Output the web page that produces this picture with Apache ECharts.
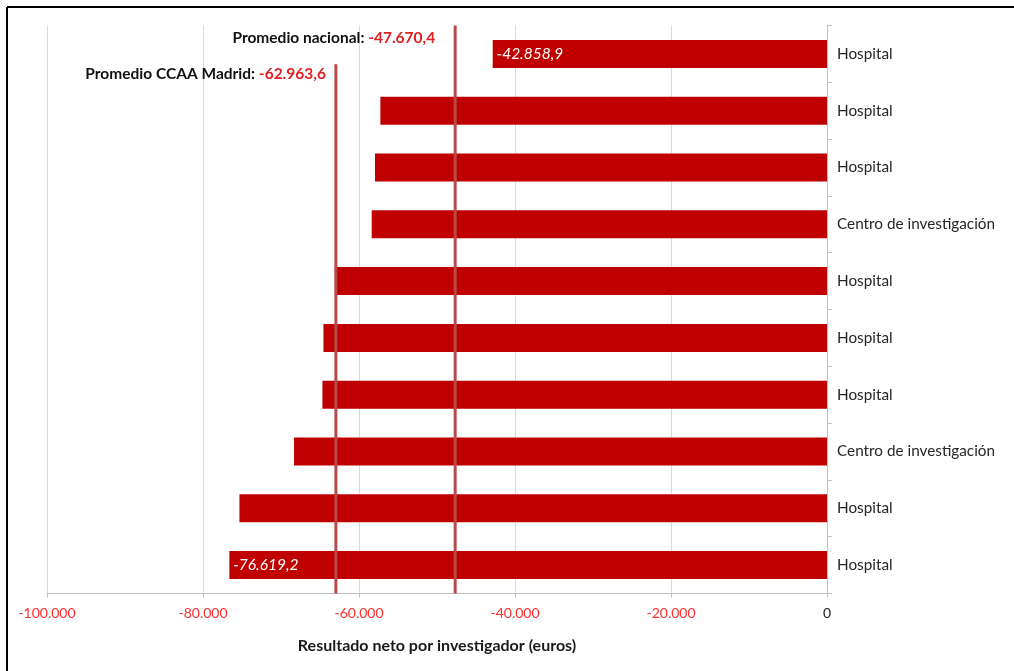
<!DOCTYPE html>
<html>
<head>
<meta charset="utf-8">
<script src="https://cdn.jsdelivr.net/npm/echarts@6/dist/echarts.min.js"></script>
<style>
  html, body { margin: 0; padding: 0; background: #fff; }
  #chart { width: 1014px; height: 671px; }
</style>
</head>
<body>
<div id="chart"></div>
<script>
// Net result per researcher, one bar per institution (top to bottom)
const categories = [
  'Hospital', 'Hospital', 'Hospital', 'Centro de investigación', 'Hospital',
  'Hospital', 'Hospital', 'Centro de investigación', 'Hospital', 'Hospital'
];
const values = [
  -42858.9, -57260, -57950, -58370, -63100,
  -64560, -64690, -68330, -75330, -76619.2
];
// Bars whose value is printed inside the bar
const labelledBars = [0, 9];

// Reference averages drawn as vertical lines
const avgNames = ['Promedio nacional', 'Promedio CCAA Madrid'];
const avgValues = [-47670.4, -62963.6];

// Value-axis ticks
const xMin = -100000, xMax = 0, xStep = 20000;

function fmtEs(v, decimals) {
  const neg = v < 0;
  const s = Math.abs(v).toFixed(decimals);
  const parts = s.split('.');
  const intPart = parts[0].replace(/\B(?=(\d{3})+(?!\d))/g, '.');
  return (neg ? '-' : '') + intPart + (parts[1] ? ',' + parts[1] : '');
}

const FONT = 'Lato, "Open Sans", sans-serif';
const LINE_COLOR = '#b94a4a';

// top of each average line on the hidden 0-100 helper axis
const lineTops = [100, 93.2];

const barData = values.map((v, i) => {
  const item = { value: v };
  if (labelledBars.includes(i)) {
    item.label = {
      show: true,
      position: 'insideLeft',
      distance: 4,
      formatter: fmtEs(v, 1),
      color: '#fff',
      fontStyle: 'italic',
      fontSize: 15.5,
      fontFamily: FONT
    };
  }
  return item;
});

const lineSeries = avgValues.map((v, i) => ({
  type: 'line',
  xAxisIndex: 0,
  yAxisIndex: 1,
  data: [[v, 0], [v, lineTops[i]]],
  symbol: 'none',
  lineStyle: { color: LINE_COLOR, width: 3 },
  silent: true,
  animation: false,
  z: 5
}));

const labelOffsets = [[0, 12], [10, 10]];
const labelSeries = {
  type: 'scatter',
  xAxisIndex: 0,
  yAxisIndex: 1,
  symbolSize: 0,
  itemStyle: { color: '#fff', opacity: 1 },
  emphasis: { disabled: true },
  silent: true,
  animation: false,
  z: 6,
  data: avgValues.map((v, i) => ({
    value: [v, lineTops[i]],
    label: {
      show: true,
      position: 'left',
      distance: 20,
      offset: labelOffsets[i],
      opacity: 1,
      formatter: '{n|' + avgNames[i] + ': }{v|' + fmtEs(v, 1) + '}',
      rich: {
        n: { color: '#111111', fontWeight: 'bold', fontSize: 15.5, fontFamily: FONT },
        v: { color: '#dd1f1f', fontWeight: 'bold', fontSize: 15.5, fontFamily: FONT }
      }
    }
  }))
};

const chart = echarts.init(document.getElementById('chart'), null, { renderer: 'canvas' });
chart.setOption({
  backgroundColor: '#fff',
  animation: false,
  grid: { left: 47, right: 187, top: 25.6, bottom: 77.6, containLabel: false },
  xAxis: {
    type: 'value',
    min: xMin,
    max: xMax,
    interval: xStep,
    name: 'Resultado neto por investigador (euros)',
    nameLocation: 'middle',
    nameGap: 44,
    nameTextStyle: { color: '#1a1a1a', fontWeight: 'bold', fontSize: 16, fontFamily: FONT },
    axisLine: { show: true, lineStyle: { color: '#bfbfbf', width: 1 } },
    axisTick: { show: true, length: 4, lineStyle: { color: '#bfbfbf' } },
    splitLine: { show: true, lineStyle: { color: '#d9d9d9', width: 1 } },
    axisLabel: {
      margin: 13,
      fontSize: 14,
      fontFamily: FONT,
      formatter: v => v === 0 ? '{z|0}' : '{r|' + fmtEs(v, 0) + '}',
      rich: {
        r: { color: '#ff2d2d', fontSize: 14, fontFamily: FONT },
        z: { color: '#1a1a1a', fontSize: 14, fontFamily: FONT }
      }
    }
  },
  yAxis: [
    {
      type: 'category',
      data: categories,
      inverse: true,
      position: 'right',
      axisLine: { show: true, onZero: false, lineStyle: { color: '#bfbfbf', width: 1 } },
      axisTick: { show: true, length: 5, lineStyle: { color: '#bfbfbf' } },
      axisLabel: { margin: 10, color: '#262626', fontSize: 15.3, fontFamily: FONT },
      splitLine: { show: false }
    },
    {
      type: 'value',
      min: 0,
      max: 100,
      show: false
    }
  ],
  series: [
    {
      type: 'bar',
      data: barData,
      barWidth: 28,
      itemStyle: { color: '#c00000' },
      z: 2
    },
    ...lineSeries,
    labelSeries
  ],
  graphic: [
    { type: 'line', shape: { x1: 7, y1: 7, x2: 1014, y2: 7 }, style: { stroke: '#000', lineWidth: 2 } },
    { type: 'line', shape: { x1: 7, y1: 7, x2: 7, y2: 671 }, style: { stroke: '#000', lineWidth: 2 } }
  ]
});
</script>
</body>
</html>
